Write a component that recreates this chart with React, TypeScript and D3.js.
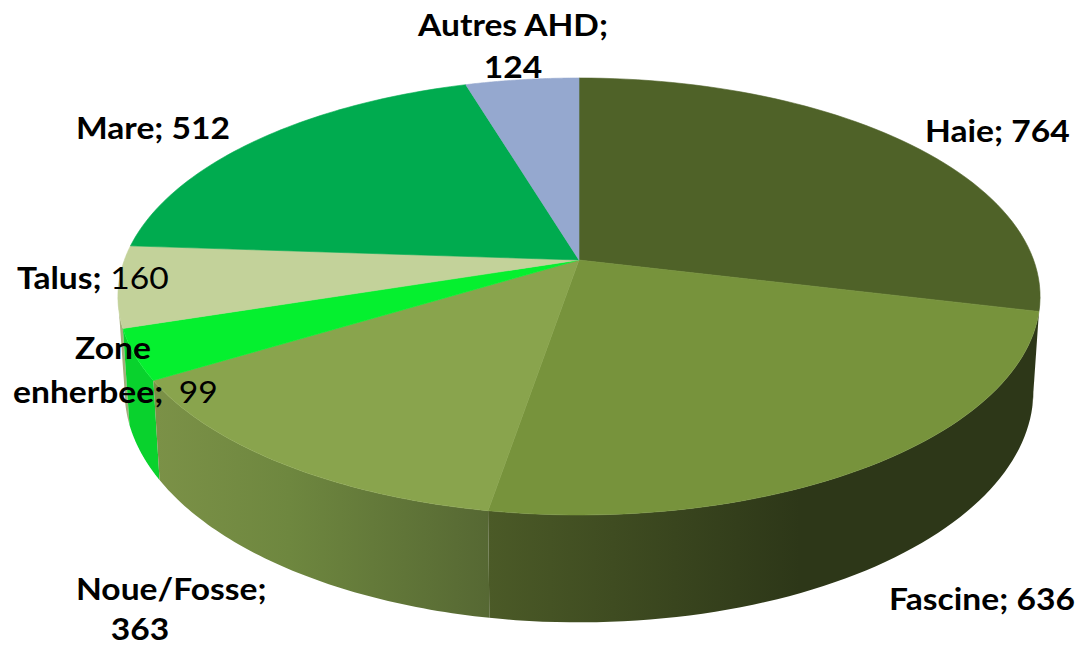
import React from 'react';
import * as d3 from 'd3';

const categories = ['Haie', 'Fascine', 'Noue/Fosse', 'Zone enherbee', 'Talus', 'Mare', 'Autres AHD'];
const values = [764, 636, 363, 99, 160, 512, 124];
const topColors = ['#4f6228', '#77933c', '#89a44d', '#05f02f', '#c3d29a', '#00ab4f', '#95a8cf'];

const width = 1078;
const height = 646;

// perspective of the pie: the near side of the disc is drawn larger
const k = 0.167;
const cx = 579;
const top = { cy: 260, rx: 454.6, ry: 212.4 };
const bottom = { cy: 352.5, rx: 448, ry: 224.8 };

const project = (disc: typeof top, angle: number): [number, number] => {
  const u = Math.sin(angle);
  const v = -Math.cos(angle);
  const w = 1 - k * v;
  return [cx + (disc.rx * u) / w, disc.cy + (disc.ry * v) / w];
};

const arcPoints = (disc: typeof top, a0: number, a1: number) =>
  d3.range(0, 61).map((i) => project(disc, a0 + ((a1 - a0) * i) / 60));

const line = d3.line().curve(d3.curveLinear);

// part of the wall that faces the viewer
const wallFrom = Math.PI / 2 + Math.asin(k);
const wallTo = (3 * Math.PI) / 2 - Math.asin(k);

const slices = d3.pie<number>().sort(null).startAngle(0).endAngle(2 * Math.PI)(values);

const wallFills: Record<string, string> = {
  Haie: '#2f3818',
  Fascine: 'url(#fascineWall)',
  'Noue/Fosse': 'url(#noueWall)',
  'Zone enherbee': '#09d22d',
  Talus: '#a3ad7c',
};
const wallOrder = ['Haie', 'Talus', 'Zone enherbee', 'Noue/Fosse', 'Fascine'];

// the labels are a bit wider than Lato, so they get stretched sideways
const stretch = 1.12;

const Label = ({ x, y, middle, children }: any) => (
  <text
    transform={`translate(${x},${y}) scale(${stretch},1)`}
    textAnchor={middle ? 'middle' : 'start'}
    style={{ fontFamily: 'Lato, "Open Sans", sans-serif', fontSize: 30, fill: '#000', fontWeight: 700 }}
  >
    {children}
  </text>
);

const App = () => {
  return (
    <svg width={width} height={height} style={{ position: 'absolute', left: 0, top: 0 }}>
      <defs>
        <linearGradient id="fascineWall" gradientUnits="userSpaceOnUse" x1={488} x2={800} y1={0} y2={0}>
          <stop offset="0%" stopColor="#4b5a27" />
          <stop offset="100%" stopColor="#2d3718" />
        </linearGradient>
        <linearGradient id="noueWall" gradientUnits="userSpaceOnUse" x1={157} x2={488} y1={0} y2={0}>
          <stop offset="0%" stopColor="#7b9147" />
          <stop offset="40%" stopColor="#6e873f" />
          <stop offset="100%" stopColor="#566833" />
        </linearGradient>
      </defs>

      {wallOrder.map((name) => {
        const s = slices[categories.indexOf(name)];
        const a0 = Math.max(s.startAngle, wallFrom);
        const a1 = Math.min(s.endAngle, wallTo);
        const pts = [...arcPoints(top, a0, a1), ...arcPoints(bottom, a0, a1).reverse()];
        return <path key={name} d={line(pts) + 'Z'} fill={wallFills[name]} />;
      })}

      {slices.map((s, i) => {
        const pts = [[cx, top.cy] as [number, number], ...arcPoints(top, s.startAngle, s.endAngle)];
        return <path key={categories[i]} d={line(pts) + 'Z'} fill={topColors[i]} stroke={topColors[i]} strokeWidth={0.6} />;
      })}

      <Label x={513} y={36} middle>Autres AHD;</Label>
      <Label x={513} y={78} middle>124</Label>
      <Label x={76} y={139}>Mare; 512</Label>
      <Label x={925} y={142}>Haie; 764</Label>
      <Label x={17} y={289}>Talus;<tspan fontWeight={400}> 160</tspan></Label>
      <Label x={113} y={359} middle>Zone</Label>
      <Label x={13} y={403}>enherbee;<tspan fontWeight={400} dx={6}> 99</tspan></Label>
      <Label x={76} y={600}>Noue/Fosse;</Label>
      <Label x={140} y={640} middle>363</Label>
      <Label x={889} y={610}>Fascine; 636</Label>
    </svg>
  );
};

export default App;
